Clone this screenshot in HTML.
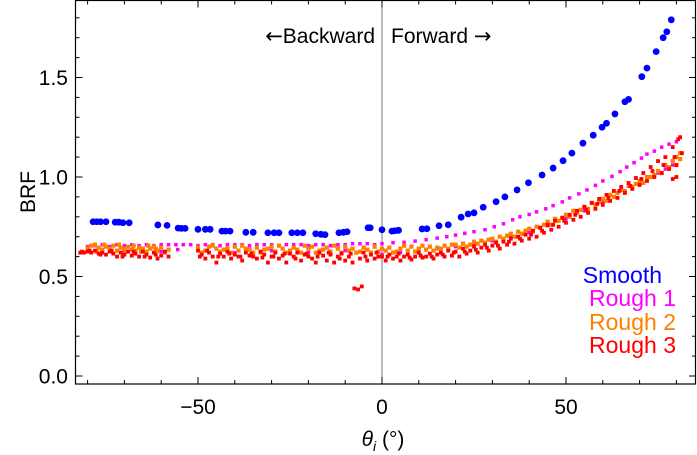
<!DOCTYPE html>
<html><head><meta charset="utf-8"><style>
html,body{margin:0;padding:0;background:#fff;}
svg{display:block;font-family:"Liberation Sans",sans-serif;}
.ar{font-family:"DejaVu Sans",sans-serif;}
</style></head><body>
<svg id="chart" width="697" height="455" viewBox="0 0 697 455" xmlns="http://www.w3.org/2000/svg">
<g id="marks"></g>
<g id="axes"></g>
<text x="375" y="43" font-size="21" text-anchor="end"><tspan class="ar">←</tspan>Backward</text>
<text x="391" y="43" font-size="21">Forward  <tspan class="ar">→</tspan></text>
<text transform="translate(35,192) rotate(-90)" font-size="21" text-anchor="middle">BRF</text>
<text x="383" y="446" font-size="21" text-anchor="middle"><tspan font-style="italic">θ</tspan><tspan font-style="italic" font-size="14" dy="5">i</tspan><tspan dy="-5"> (°)</tspan></text>
<g font-size="23" text-anchor="end">
<text x="662" y="283" fill="#0000ff">Smooth</text>
<text x="676" y="306" fill="#ff00ff">Rough 1</text>
<text x="676" y="330" fill="#ff8000">Rough 2</text>
<text x="676" y="353" fill="#ff0000">Rough 3</text>
</g>
</svg>
<script>
const xTicks = [-50, 0, 50];
const xTickLabels = ["\u221250", "0", "50"];
const yTicks = [0, 0.5, 1.0, 1.5];
const yTickLabels = ["0.0", "0.5", "1.0", "1.5"];
const smoothPoints = [[-78.5,.775],[-77.5,.775],[-76.5,.775],[-75,.775],[-72.5,.773],[-71.5,.773],[-70.4,.77],[-68.7,.77],[-60.9,.759],[-58.4,.757],[-55.4,.743],[-54.5,.742],[-53.5,.742],[-50,.737],[-48,.737],[-46.7,.737],[-43.5,.728],[-42.5,.728],[-41.3,.728],[-37,.722],[-35,.722],[-31,.72],[-29.3,.72],[-28,.72],[-24.5,.72],[-23,.72],[-21.5,.72],[-18,.715],[-16.6,.712],[-15.5,.71],[-11.7,.72],[-10.5,.722],[-9.5,.725],[-3.8,.745],[-3.2,.745],[0,.735],[2.7,.728],[3.5,.73],[4.5,.732],[10.9,.739],[12.2,.74],[15.5,.755],[18,.76],[21.5,.798],[23.4,.814],[25,.82],[27.5,.848],[31,.876],[33.4,.9],[36.7,.935],[39.8,.971],[43.5,1.01],[46.5,1.045],[49.2,1.082],[51.6,1.12],[54.6,1.17],[57.4,1.21],[59.8,1.25],[61,1.27],[63.3,1.317],[66,1.378],[67,1.39],[70.6,1.504],[72,1.547],[74.5,1.63],[76.4,1.70],[77.4,1.73],[78.6,1.79]];
const rough1Points = [[-80,.65],[-78,.655],[-76,.66],[-74,.65],[-72,.66],[-70,.655],[-68,.66],[-66,.655],[-64,.66],[-62,.655],[-60,.66],[-58,.66],[-56,.66],[-55.5,.635],[-54,.66],[-52,.66],[-50,.655],[-48,.66],[-46,.66],[-44,.655],[-42,.66],[-40,.66],[-38,.66],[-36,.655],[-34,.66],[-32,.66],[-30,.66],[-28,.655],[-26,.66],[-24,.66],[-22,.66],[-20,.655],[-18,.66],[-16,.66],[-14,.655],[-12,.66],[-10,.66],[-8,.665],[-6,.665],[-4,.665],[-2,.66],[0,.665],[3,.67],[6,.672],[9,.678],[12,.685],[15,.693],[17.6,.70],[20,.708],[22.5,.717],[25,.725],[28,.735],[30.5,.75],[33,.765],[35.5,.785],[37.5,.80],[40,.812],[42,.825],[44.5,.84],[46.5,.856],[49,.875],[51,.895],[53.5,.915],[55.7,.935],[58,.958],[60,.98],[62.5,1.003],[64.7,1.027],[66.5,1.05],[68.5,1.072],[70.5,1.095],[72,1.115],[74,1.13],[76,1.15],[78,1.165],[80,1.177],[-70,.63],[-40,.62],[-20,.62],[0,.61],[10,.63],[20,.65],[30,.68],[40,.72],[50,.79],[60,.87],[66,.93],[70,.97],[75,1.02],[79,1.06],[-60,.625],[-30,.63],[-10,.63],[5,.62],[15,.64],[25,.665],[35,.70],[45,.755],[55,.83],[63,.9],[72,.99],[77,1.04]];
const rough2Points = [[-80,.64],[-79,.655],[-78,.66],[-77,.645],[-76,.635],[-75,.65],[-74,.64],[-73,.655],[-72,.63],[-71,.645],[-70,.64],[-69,.65],[-68,.635],[-67,.63],[-66,.645],[-65,.64],[-64,.625],[-63,.64],[-62,.65],[-61,.63],[-60,.645],[-59,.62],[-58,.635],[-50,.645],[-48,.63],[-47,.65],[-45,.64],[-44,.625],[-42,.645],[-40,.65],[-39,.63],[-37,.64],[-35,.62],[-34,.645],[-32,.635],[-30,.65],[-29,.625],[-27,.64],[-25,.63],[-24,.645],[-22,.62],[-20,.64],[-19,.65],[-17,.63],[-15,.645],[-14,.625],[-12,.64],[-10,.65],[-9,.63],[-7,.62],[-5,.645],[-4,.635],[-2,.65],[-1,.625],[1,.63],[2,.645],[4,.625],[5,.64],[7,.63],[8,.65],[10,.64],[12,.635],[13,.65],[15,.645],[17,.655],[18,.64],[20,.66],[22,.665],[23,.65],[25,.675],[27,.68],[28,.67],[30,.69],[32,.7],[33,.69],[35,.715],[37,.725],[38,.715],[40,.74],[42,.75],[43,.745],[45,.775],[47,.79],[48,.78],[50,.81],[52,.83],[53,.82],[55,.85],[57,.87],[58,.86],[60,.89],[62,.91],[63,.9],[65,.935],[67,.955],[68,.95],[70,.98],[72,1.0],[73,1.0],[75,1.03],[77,1.06],[78,1.05],[79,1.08],[80,1.1],[81,1.12],[-79.5,.63],[-77.5,.625],[-75.5,.66],[-73.5,.63],[-71.5,.66],[-69.5,.625],[-67.5,.655],[-65.5,.625],[-63.5,.655],[-61.5,.64],[-49,.62],[-46,.655],[-43,.635],[-41,.62],[-38,.655],[-36,.635],[-33,.62],[-31,.64],[-28,.655],[-26,.62],[-23,.635],[-21,.655],[-18,.62],[-16,.635],[-13,.655],[-11,.62],[-8,.64],[-6,.625],[-3,.62],[0,.64],[3,.62],[6,.655],[9,.625],[11,.655],[14,.63],[16,.64],[19,.66],[21,.645],[24,.66],[26,.665],[29,.685],[31,.675],[34,.705],[36,.7],[39,.73],[41,.725],[44,.76],[46,.76],[49,.795],[51,.8],[54,.835],[56,.84],[59,.875],[61,.88],[64,.92],[66,.925],[69,.965],[71,.97],[74,1.01],[76,1.02],[80,1.06],[81,1.09]];
const rough3Points = [[-82,.62],[-81,.62],[-80,.625],[-79,.62],[-78,.63],[-77,.615],[-76,.62],[-75,.61],[-74,.625],[-73,.615],[-72,.6],[-71,.62],[-70,.61],[-69,.625],[-68,.605],[-67,.615],[-66,.6],[-65,.625],[-64,.61],[-63,.595],[-62,.62],[-61,.59],[-60,.605],[-59,.625],[-58,.6],[-50,.63],[-49,.61],[-48,.59],[-47,.62],[-46,.6],[-45,.57],[-44,.615],[-43,.6],[-42,.625],[-41,.59],[-40,.61],[-39,.6],[-38,.58],[-37,.62],[-36,.605],[-35,.6],[-34,.59],[-33,.625],[-32,.61],[-31,.57],[-30,.6],[-29,.62],[-28,.59],[-27,.605],[-26,.57],[-25,.615],[-24,.6],[-23,.62],[-22,.58],[-21,.61],[-20,.6],[-19,.59],[-18,.57],[-17,.62],[-16,.605],[-15,.58],[-14,.61],[-13,.57],[-12,.6],[-11,.615],[-10,.58],[-9,.6],[-8,.57],[-7.5,.44],[-6.5,.435],[-5.5,.45],[-6,.59],[-5,.62],[-4,.58],[-3,.61],[-2,.59],[-1,.6],[0,.6],[1,.58],[2,.61],[3,.59],[4,.6],[5,.58],[6,.6],[7,.61],[8,.585],[9,.6],[10,.62],[11,.595],[12,.6],[13,.615],[14,.59],[15,.61],[16,.62],[17,.6],[18,.63],[19,.605],[20,.625],[21,.6],[22,.64],[23,.615],[24,.63],[25,.65],[26,.62],[27,.645],[28,.66],[29,.63],[30,.655],[31,.67],[32,.64],[33,.675],[34,.66],[35,.69],[36,.665],[37,.7],[38,.68],[39,.71],[40,.69],[41,.73],[42,.7],[43,.745],[44,.72],[45,.76],[46,.735],[47,.78],[48,.75],[49,.795],[50,.77],[51,.81],[52,.785],[53,.83],[54,.8],[55,.85],[56,.82],[57,.87],[58,.84],[59,.89],[60,.86],[61,.91],[62,.88],[63,.93],[64,.895],[65,.95],[66,.92],[67,.97],[68,.94],[69,.995],[70,.96],[71,1.02],[72,.98],[73,1.05],[74,1.0],[75,1.08],[76,1.02],[77,1.1],[78,1.04],[79,1.15],[80,1.06],[80.5,1.19],[81,1.2],[81.5,1.12],[80,1.0],[79,.99],[-81.5,.625],[-79.5,.63],[-76.5,.61],[-73.5,.63],[-70.5,.6],[-67.5,.625],[-64.5,.6],[-61.5,.61],[-49.5,.6],[-47.5,.63],[-44.5,.6],[-41.5,.615],[-38.5,.6],[-35.5,.615],[-32.5,.595],[-29.5,.6],[-26.5,.615],[-23.5,.59],[-20.5,.615],[-17.5,.6],[-14.5,.62],[-11.5,.59],[-8.5,.615],[-4.5,.6],[-1.5,.62],[1.5,.6],[4.5,.615],[7.5,.595],[10.5,.605],[13.5,.6],[16.5,.61],[19.5,.62],[22.5,.625],[25.5,.635],[28.5,.645],[31.5,.655],[34.5,.675],[37.5,.69],[40.5,.71],[43.5,.73],[46.5,.76],[49.5,.78],[52.5,.81],[55.5,.835],[58.5,.865],[61.5,.895],[64.5,.93],[67.5,.955],[70.5,.99],[73.5,1.03],[76.5,1.06],[79.5,1.1]];

const NS = "http://www.w3.org/2000/svg";
const L = 75.5, R = 696, T = 0.5, B = 384;
function sx(v){ return 382 + v * 3.68; }
function sy(v){ return 376 - v * 199; }
const marks = document.getElementById('marks');
const axes = document.getElementById('axes');
function mk(tag, attrs, parent){
  const e = document.createElementNS(NS, tag);
  for (const k in attrs) e.setAttribute(k, attrs[k]);
  parent.appendChild(e);
  return e;
}
const zl = mk('line', {x1:sx(0), x2:sx(0), y1:T, y2:B, stroke:'#777', 'stroke-width':1}, marks);



function squares(points, color, size, name){
  const g = mk('g', {fill: color}, marks);
  
  
  points.forEach(p => {
    const r = mk('rect', {x: sx(p[0]) - size/2, y: sy(p[1]) - size/2, width: size, height: size}, g);
    
    
  });
}
const gs = mk('g', {fill:'#0000ff'}, marks);


smoothPoints.forEach(p => {
  const c = mk('circle', {cx: sx(p[0]), cy: sy(p[1]), r: 3.4}, gs);
  
  
});
squares(rough1Points, '#ff00ff', 3.5, 'rough-1-series');
squares(rough2Points, '#ff8000', 4.2, 'rough-2-series');
squares(rough3Points, '#ff0000', 3.8, 'rough-3-series');

const fr = mk('rect', {x:L, y:T, width:R-L-0.5, height:B-T, fill:'none', stroke:'#000', 'stroke-width':1.2}, axes);


for (let v = -80; v <= 80; v += 10) {
  const major = xTicks.indexOf(v) >= 0;
  const len = major ? 7 : 4;
  const t1 = mk('line', {x1:sx(v), x2:sx(v), y1:B, y2:B-len, stroke:'#000'}, axes);
  
  
  const t2 = mk('line', {x1:sx(v), x2:sx(v), y1:T, y2:T+len, stroke:'#000'}, axes);
  
  
}
xTicks.forEach((v, i) => {
  const t = mk('text', {x:sx(v), y:414, 'font-size':21, 'text-anchor':'middle'}, axes);
  t.textContent = xTickLabels[i];
  
  
});
for (let k = 0; k <= 18; k++) {
  const v = k / 10;
  const major = k % 5 === 0;
  const len = major ? 7 : 4;
  const t1 = mk('line', {x1:L, x2:L+len, y1:sy(v), y2:sy(v), stroke:'#000'}, axes);
  
  
  const t2 = mk('line', {x1:R, x2:R-len, y1:sy(v), y2:sy(v), stroke:'#000'}, axes);
  
  
}
yTicks.forEach((v, i) => {
  const t = mk('text', {x:68, y:sy(v)+7.5, 'font-size':21, 'text-anchor':'end'}, axes);
  t.textContent = yTickLabels[i];
  
  
});
</script>
</body></html>
